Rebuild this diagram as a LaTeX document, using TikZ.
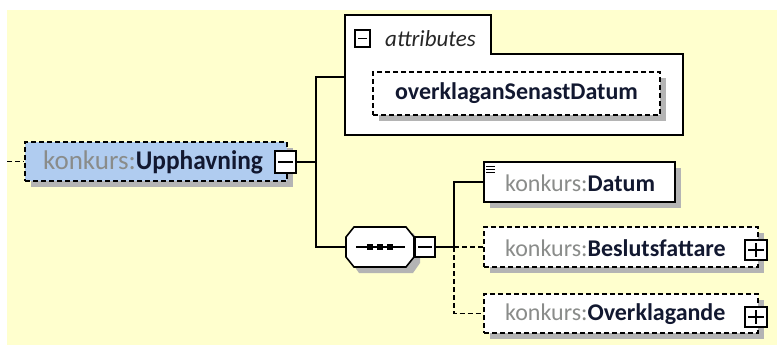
\documentclass[tikz,border=0pt]{standalone}
\usepackage{fontspec}
\setmainfont{Carlito}
\usetikzlibrary{shadows}
\definecolor{bgyellow}{RGB}{255,255,206}
\definecolor{mainblue}{RGB}{176,204,240}
\definecolor{shadowgrey}{RGB}{180,180,180}
\definecolor{kgrey}{RGB}{138,140,138}
\definecolor{navy}{RGB}{18,24,48}
\tikzset{
  conn/.style={line width=1.6pt, black},
  dconn/.style={conn, dash pattern=on 5pt off 3pt},
  boxshadow/.style={drop shadow={shadow xshift=6pt, shadow yshift=-6pt, fill=shadowgrey, opacity=1}},
  elembox/.style={draw=black, line width=1.6pt, fill=white, inner sep=0pt, boxshadow},
  optbox/.style={elembox, dash pattern=on 5pt off 3pt},
  btn/.style={draw=black, line width=1.3pt, fill=white, inner sep=0pt},
  minusbtn/.style={btn, path picture={\draw[line width=1.3pt] ([xshift=3pt]path picture bounding box.west) -- ([xshift=-3pt]path picture bounding box.east);}},
  plusbtn/.style={btn, path picture={\draw[line width=1.3pt] ([xshift=3pt]path picture bounding box.west) -- ([xshift=-3pt]path picture bounding box.east); \draw[line width=1.3pt] ([yshift=-3pt]path picture bounding box.north) -- ([yshift=3pt]path picture bounding box.south);}},
  bigtext/.style={inner sep=0pt, font=\fontsize{27}{30}\selectfont, text=navy},
  smalltext/.style={inner sep=0pt, font=\fontsize{24}{28}\selectfont, text=navy},
}
\newcommand{\kpre}{\textcolor{kgrey}{konkurs:}}
\begin{document}
\begin{tikzpicture}[x=1pt,y=-1pt]
\useasboundingbox (0,0) rectangle (777,345);
\fill[bgyellow] (7,10) rectangle (777,345);

% main element
\node[optbox, fill=mainblue, minimum width=262pt, minimum height=39pt] (main) at (156,161.5) {};
\node[bigtext, anchor=west] (maint) at (43,162) {\kpre\scalebox{0.94}[1]{\textbf{Upphavning}}};
\node[minusbtn, minimum width=21pt, minimum height=22pt] (mminus) at (285.5,162) {};
\coordinate (in) at (7,161.5);
\draw[dconn] (in) -- (main.west);

% attributes box
\fill[white] (345,15) -- (491,15) -- (491,54) -- (683,54) -- (683,135) -- (345,135) -- cycle;
\draw[conn] (345,15) -- (491,15) -- (491,54) -- (683,54) -- (683,135) -- (345,135) -- cycle;
\coordinate (attrW) at (345,77);
\node[minusbtn, minimum width=15pt, minimum height=17pt] (aminus) at (362.5,38.5) {};
\node[inner sep=0pt, anchor=base west, font=\fontsize{23}{26}\selectfont\itshape, text=black!85] (attrt) at (385,47) {attributes};
\node[optbox, minimum width=287pt, minimum height=43pt, smalltext, font=\fontsize{24}{28}\selectfont\bfseries] (over) at (516.5,93.5) {overklaganSenastDatum};

% trunk connectors
\coordinate (trunk) at (316,162);
\draw[conn] (mminus.east) -- (trunk);

% sequence compositor
\fill[shadowgrey] (352,233) -- (413,233) -- (420,243) -- (420,263) -- (413,273) -- (359,273) -- (352,263) -- cycle;
\node[inner sep=0pt, minimum width=68pt, minimum height=40pt] (seq) at (380,247) {};
\filldraw[conn, fill=white] (354,227) -- (406,227) -- (414,237) -- (414,257) -- (406,267) -- (354,267) -- (346,257) -- (346,237) -- cycle;
\draw[line width=1.3pt] (356,247) -- (405,247);
\foreach \sx in {370,380,390} \fill (\sx-3,244) rectangle (\sx+3,250);
\node[minusbtn, minimum width=20pt, minimum height=20pt] (sminus) at (425,247) {};

\draw[conn] (attrW) -| (trunk) |- (seq.west);

% children
\coordinate (br) at (454,247);
\draw[conn] (sminus.east) -- (br);

\node[elembox, minimum width=191pt, minimum height=40pt] (datum) at (579.5,182) {};
\foreach \ly in {166,169,172} \draw[line width=1pt] (486,\ly) -- (495,\ly);
\node[smalltext, anchor=west] (datumt) at (505,183) {\kpre\textbf{Datum}};

\node[optbox, minimum width=274pt, minimum height=40pt] (besl) at (621,247) {};
\node[smalltext, anchor=west] (beslt) at (505,248) {\kpre\textbf{Beslutsfattare}};
\node[plusbtn, minimum width=22pt, minimum height=20pt] (bplus) at (756,250) {};

\node[optbox, minimum width=274pt, minimum height=39pt] (overk) at (621,313.5) {};
\node[smalltext, anchor=west] (overkt) at (505,314) {\kpre\textbf{Overklagande}};
\node[plusbtn, minimum width=22pt, minimum height=20pt] (oplus) at (756,317) {};

\draw[conn] (br) |- (datum.west);
\draw[dconn] (br) -- (besl.west);
\draw[dconn] (br) |- (overk.west);
\end{tikzpicture}
\end{document}
